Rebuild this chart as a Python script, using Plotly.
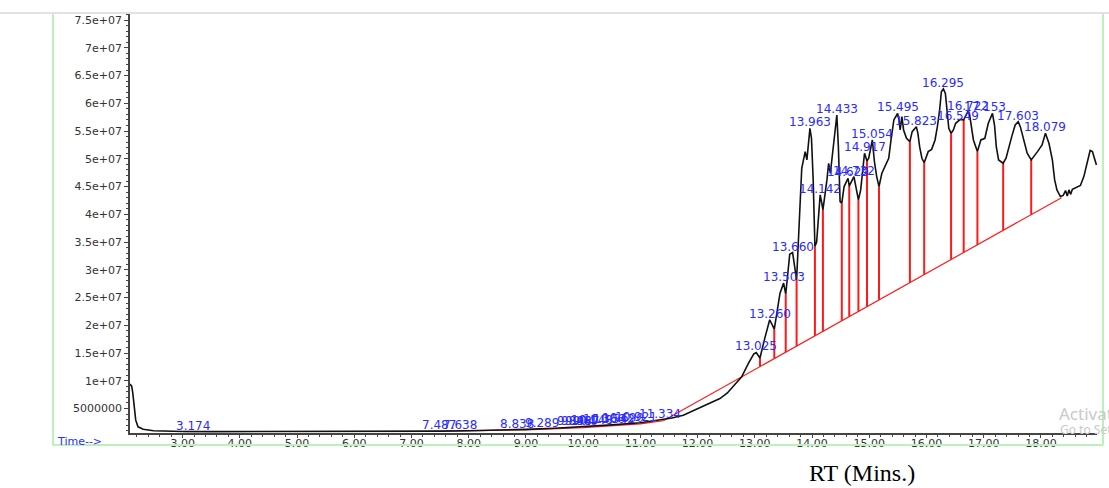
import numpy as np
import plotly.graph_objects as go

# Total ion chromatogram: retention time (min) and abundance (millions of counts)
rt = [2.08, 2.11, 2.13, 2.16, 2.18, 2.22, 2.31, 2.49, 2.75, 3.0, 3.5, 4.0, 4.5, 5.0, 5.5,
      6.0, 6.5, 7.0, 7.5, 8.0, 8.5, 9.0, 9.5, 10.0, 10.5, 11.0, 11.34, 11.55, 11.75, 12.04,
      12.2, 12.39, 12.52, 12.62, 12.77, 12.89, 12.98, 13.025, 13.09, 13.17, 13.26, 13.34,
      13.44, 13.503, 13.54, 13.61, 13.66, 13.73, 13.79, 13.82, 13.88, 13.91, 13.963, 13.99,
      14.02, 14.05, 14.08, 14.142, 14.17, 14.19, 14.26, 14.29, 14.32, 14.37, 14.433, 14.46,
      14.49, 14.52, 14.56, 14.629, 14.65, 14.732, 14.77, 14.81, 14.85, 14.917, 14.96, 14.99,
      15.054, 15.09, 15.13, 15.17, 15.22, 15.28, 15.34, 15.38, 15.43, 15.495, 15.52, 15.54,
      15.57, 15.60, 15.65, 15.71, 15.75, 15.823, 15.85, 15.88, 15.92, 15.96, 16.03, 16.09,
      16.15, 16.19, 16.23, 16.26, 16.295, 16.33, 16.36, 16.39, 16.43, 16.47, 16.51, 16.549,
      16.59, 16.65, 16.69, 16.722, 16.75, 16.78, 16.82, 16.86, 16.89, 16.95, 17.02, 17.08,
      17.12, 17.153, 17.19, 17.22, 17.26, 17.34, 17.39, 17.44, 17.49, 17.55, 17.603, 17.64,
      17.70, 17.76, 17.83, 17.88, 17.94, 18.02, 18.079, 18.14, 18.20, 18.24, 18.28, 18.34,
      18.39, 18.43, 18.46, 18.49, 18.52, 18.55, 18.60, 18.69, 18.75, 18.81, 18.86, 18.90,
      18.94, 18.97]
abundance_m = [9.4, 9.0, 7.7, 4.7, 2.9, 1.7, 1.26, 1.0, 0.9, 0.86, 0.84, 0.85, 0.83, 0.82, 0.8,
               0.81, 0.83, 0.86, 0.93, 1.0, 1.1, 1.25, 1.45, 1.7, 2.05, 2.45, 2.9, 3.3, 3.8, 5.2,
               6.0, 6.8, 7.8, 8.9, 10.7, 13.2, 14.8, 15.1, 14.1, 17.5, 21.0, 19.3,
               25.8, 27.6, 25.6, 32.8, 33.1, 28.2, 41.4, 48.3, 51.3, 49.8, 55.5, 53.7,
               46.2, 34.2, 35.0, 43.5, 42.0, 40.8, 46.2, 49.2, 47.4, 52.2, 57.9, 52.2,
               42.3, 42.0, 45.0, 46.5, 45.1, 46.8, 44.4, 42.6, 44.4, 51.0, 49.6, 50.1,
               53.4, 49.5, 46.8, 45.0, 47.4, 48.9, 50.1, 53.4, 57.0, 58.2, 57.0, 55.2,
               57.6, 55.2, 53.7, 53.1, 54.9, 55.8, 54.6, 52.2, 50.1, 49.3, 51.3, 51.7,
               53.4, 55.8, 58.8, 62.1, 62.6, 61.8, 58.2, 55.5, 54.6, 55.2, 56.4, 56.7,
               57.1, 57.0, 57.8, 58.5, 58.2, 55.8, 53.4, 52.2, 51.3, 53.4, 53.7, 56.4,
               57.6, 58.2, 56.0, 52.2, 49.8, 49.2, 50.1, 52.2, 54.0, 56.1, 56.7, 55.8,
               53.4, 51.0, 49.8, 50.4, 51.3, 52.5, 54.6, 52.8, 49.8, 46.2, 44.4, 43.2,
               43.4, 44.3, 43.3, 44.4, 43.6, 44.5, 44.7, 45.2, 46.8, 49.2, 51.5, 51.3,
               49.8, 48.9]

# Integrated peaks: apex retention times and horizontal nudges of crowded labels (px)
peak_rt = [3.174, 7.487, 7.638, 8.838, 9.289, 9.846, 9.904, 9.987, 10.148, 10.366, 10.542,
           10.690, 10.921, 11.334, 13.025, 13.260, 13.503, 13.660, 13.963, 14.142, 14.433,
           14.629, 14.732, 14.917, 15.054, 15.495, 15.823, 16.295, 16.549, 16.722, 17.153,
           17.603, 18.079]
label_nudge = [0, 0, 12, 0, 0, 0, 0, 0, 0, 0, 0,
               0, 0, 0, 0, 0, 0, 0, 0, 0, 0,
               0, 0, 0, 0, 0, 0, 0, 0, 0, -7,
               0, 0]

# Integration baselines (retention time, millions of counts)
base_a_rt = [3.02, 3.28]
base_a_m = [0.86, 0.86]
base_b_rt = [7.15, 8.0, 9.0, 10.0, 10.5, 11.0, 11.40]
base_b_m = [0.86, 0.97, 1.15, 1.55, 1.85, 2.25, 2.8]
base_c_rt = [11.40, 18.36]
base_c_m = [2.8, 43.0]

# Peak-split drop lines
drop_rt = [13.09, 13.34, 13.54, 13.73, 14.05, 14.19, 14.52, 14.65, 14.81, 14.96, 15.17,
           15.71, 15.96, 16.43, 16.65, 16.89, 17.34, 17.83]

# Axis ticks
x_ticks = list(range(3, 19))
y_ticks = [5e6, 1e7, 1.5e7, 2e7, 2.5e7, 3e7, 3.5e7, 4e7, 4.5e7, 5e7, 5.5e7, 6e7, 6.5e7, 7e7, 7.5e7]
y_tick_text = ["5000000", "1e+07", "1.5e+07", "2e+07", "2.5e+07", "3e+07", "3.5e+07", "4e+07",
               "4.5e+07", "5e+07", "5.5e+07", "6e+07", "6.5e+07", "7e+07", "7.5e+07"]

M = 1e6
rt_arr = np.array(rt)
ab = np.array(abundance_m) * M

RED = "#ff1a1a"
BLUE = "#2b2bff"
FONT = "DejaVu Sans"

fig = go.Figure()

# baselines
for bx, by in ((base_a_rt, base_a_m), (base_b_rt, base_b_m), (base_c_rt, base_c_m)):
    fig.add_trace(go.Scatter(x=bx, y=np.array(by) * M, mode="lines",
                             line=dict(color=RED, width=1.2), hoverinfo="skip"))

# drop lines from the baseline up to the signal
dx, dy = [], []
for t in drop_rt:
    lo = np.interp(t, base_c_rt, np.array(base_c_m) * M)
    hi = np.interp(t, rt_arr, ab)
    dx += [t, t, None]
    dy += [lo, hi, None]
fig.add_trace(go.Scatter(x=dx, y=dy, mode="lines", line=dict(color=RED, width=2),
                         hoverinfo="skip"))

# signal
fig.add_trace(go.Scatter(x=rt, y=ab, mode="lines", line=dict(color="#111111", width=1.6)))

# retention-time labels on each peak
for t, nud in zip(peak_rt, label_nudge):
    fig.add_annotation(x=t, y=float(np.interp(t, rt_arr, ab)), text=f"{t:.3f}",
                       showarrow=False, xanchor="center", yanchor="bottom",
                       xshift=nud, yshift=-3,
                       font=dict(family=FONT, size=12, color=BLUE))

# plot area spans px 130..1097 horizontally and 14..433 vertically
L, R, T, B = 130, 1097, 14, 433
def px(x):
    return (x - L) / (R - L)
def py(y):
    return (B - y) / (B - T)

# light frame: grey rule on top, green sides and bottom
fig.add_shape(type="line", xref="paper", yref="paper", x0=px(0), x1=px(1109),
              y0=py(13), y1=py(13), line=dict(color="#d9d9d9", width=1.5))
GREEN = "#b9f3b9"
for x0, y0, x1, y1 in ((53, 14, 53, 445), (1103, 14, 1103, 445), (53, 445, 1103, 445)):
    fig.add_shape(type="line", xref="paper", yref="paper", x0=px(x0), x1=px(x1),
                  y0=py(y0), y1=py(y1), line=dict(color=GREEN, width=2))

fig.add_annotation(xref="paper", yref="paper", x=px(55), y=py(441), text="Time-->",
                   showarrow=False, xanchor="left", yanchor="middle",
                   font=dict(family=FONT, size=11, color=BLUE))
fig.add_annotation(xref="paper", yref="paper", x=px(862), y=py(473), text="RT (Mins.)",
                   showarrow=False, xanchor="center", yanchor="middle",
                   font=dict(family="Liberation Serif", size=24, color="#000000"))
fig.add_annotation(xref="paper", yref="paper", x=px(1057), y=py(413), text="Activate Windows",
                   showarrow=False, xanchor="left", yanchor="middle",
                   font=dict(family="Noto Sans", size=17, color="#c9c9c9"))
fig.add_annotation(xref="paper", yref="paper", x=px(1058), y=py(429),
                   text="Go to Settings to activate Windows.",
                   showarrow=False, xanchor="left", yanchor="middle",
                   font=dict(family="Noto Sans", size=12, color="#c9c9c9"))

fig.update_layout(
    width=1109, height=488,
    margin=dict(l=L, r=1109 - R, t=T, b=488 - B, pad=0),
    paper_bgcolor="white", plot_bgcolor="white",
    showlegend=False,
    xaxis=dict(range=[2.08, 18.98], tickmode="array", tickvals=x_ticks,
               ticktext=[f"{v:.2f}" for v in x_ticks],
               ticks="outside", ticklen=3, tickwidth=1, tickcolor="#444",
               ticklabelstandoff=-4,
               showline=True, linecolor="#444", linewidth=1.5,
               showgrid=False, zeroline=False,
               minor=dict(tickmode="linear", tick0=3, dtick=0.2, ticks="outside",
                          ticklen=2, tickcolor="#444", showgrid=False),
               tickfont=dict(family=FONT, size=11, color="#333")),
    yaxis=dict(range=[5.9e5, 7.61e7], tickmode="array", tickvals=y_ticks,
               ticktext=y_tick_text,
               ticks="outside", ticklen=4, tickwidth=1, tickcolor="#444",
               showline=True, linecolor="#444", linewidth=1.5,
               showgrid=False, zeroline=False,
               minor=dict(tickmode="linear", tick0=0, dtick=1e6, ticks="outside",
                          ticklen=2, tickcolor="#444", showgrid=False),
               tickfont=dict(family=FONT, size=11, color="#333")),
)

fig.write_html("out.html")
